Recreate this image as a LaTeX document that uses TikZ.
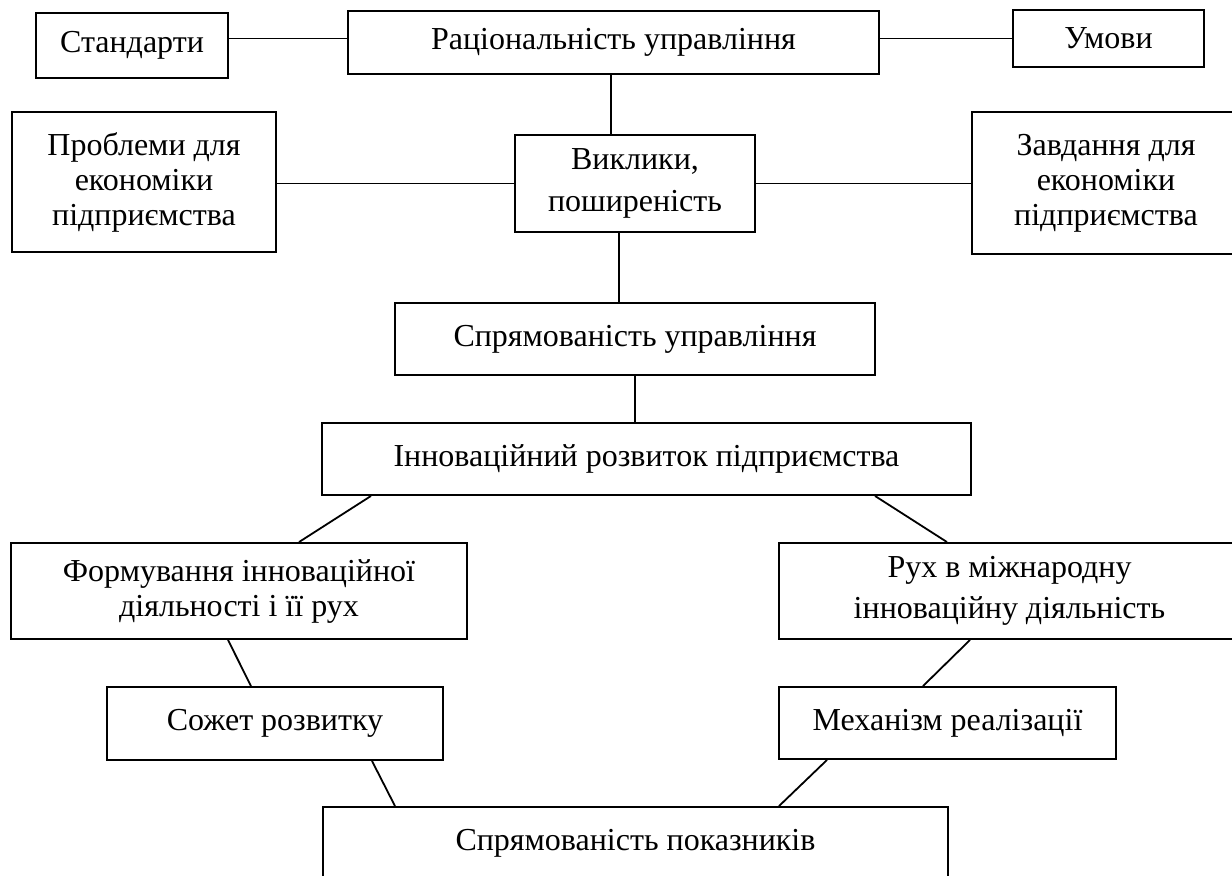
\documentclass[tikz,border=0pt]{standalone}
\usepackage{fontspec}
\setmainfont{Liberation Serif}
\begin{document}
\begin{tikzpicture}[x=0.5pt,y=-0.5pt,
  box/.style={draw=black, line width=0.95pt, rectangle, inner sep=0pt, align=center,
    font=\fontsize{16}{17.5}\selectfont},
  conn/.style={draw=black, line width=0.9pt}]
\useasboundingbox (0,0) rectangle (1232,875);
\clip (0,0) rectangle (1232,875);
\node[box, minimum width=96pt, minimum height=32.5pt] (std) at (132,45.5) {Стандарти};
\node[box, minimum width=265.5pt, minimum height=31.5pt] (rat) at (613.5,42.5) {\raisebox{1pt}{Раціональність управління}};
\node[box, minimum width=95.5pt, minimum height=28.5pt] (umo) at (1108.5,38.5) {\raisebox{-1.5pt}{Умови}};
\node[box, minimum width=132pt, minimum height=70pt] (prob) at (144,182) {Проблеми для\\економіки\\підприємства};
\node[box, minimum width=120pt, minimum height=48.5pt] (vyk) at (635,183.5) {Виклики,\\[3.5pt]поширеність};
\node[box, minimum width=134pt, minimum height=71pt] (zav) at (1106,183) {Завдання для\\економіки\\підприємства};
\node[box, minimum width=240pt, minimum height=36pt] (spu) at (635,339) {Спрямованість управління};
\node[box, minimum width=324.5pt, minimum height=36pt] (inn) at (646.5,459) {Інноваційний розвиток підприємства};
\node[box, minimum width=228pt, minimum height=48pt] (form) at (239,591) {Формування інноваційної\\діяльності і її рух};
\node[box, minimum width=230.5pt, minimum height=48pt] (ruh) at (1009.5,591) {Рух в міжнародну\\[3pt]інноваційну діяльність};
\node[box, minimum width=168pt, minimum height=36.5pt] (soz) at (275,723.5) {Сожет розвитку};
\node[box, minimum width=168.5pt, minimum height=36pt] (mech) at (947.5,723) {Механізм реалізації};
\node[box, minimum width=312.5pt, minimum height=36pt, text depth=0pt] (spp) at (635.5,843) {\raisebox{3pt}{Спрямованість показників}};

\draw[conn] ([yshift=2pt]rat.west) -- ([yshift=2pt]rat.west -| std.east);
\draw[conn] (umo.west) -- (umo.west -| rat.east);
\draw[conn] ([xshift=-12pt]vyk.north) -- ([xshift=-12pt]vyk.north |- rat.south);
\draw[conn] (vyk.west) -- (vyk.west -| prob.east);
\draw[conn] (vyk.east) -- (vyk.east -| zav.west);
\draw[conn] ([xshift=-8pt]vyk.south) -- ([xshift=-8pt]vyk.south |- spu.north);
\draw[conn] (spu.south) -- (spu.south |- inn.north);
\draw[conn] ([xshift=-137.75pt]inn.south) -- ([xshift=30pt]form.north);
\draw[conn] ([xshift=114.25pt]inn.south) -- ([xshift=-31.25pt]ruh.north);
\draw[conn] ([xshift=-5.5pt]form.south) -- ([xshift=-12pt]soz.north);
\draw[conn] ([xshift=-19.75pt]ruh.south) -- ([xshift=-12.25pt]mech.north);
\draw[conn] ([xshift=48.5pt]soz.south) -- ([xshift=-120.25pt]spp.north);
\draw[conn] ([xshift=-60.25pt]mech.south) -- ([xshift=71.75pt]spp.north);
\end{tikzpicture}
\end{document}
